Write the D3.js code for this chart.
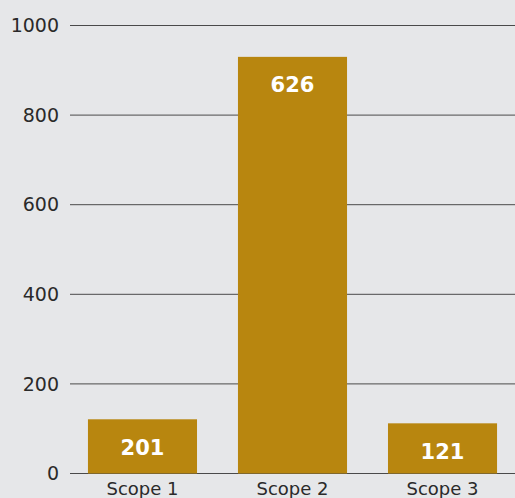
<!DOCTYPE html>
<html>
<head>
<meta charset="utf-8">
<script src="https://cdn.jsdelivr.net/npm/d3@7"></script>
<style>
  body { margin: 0; background: #e6e7e9; }
  svg { display: block; }
</style>
</head>
<body>
<script>
var categories = ["Scope 1", "Scope 2", "Scope 3"];
var hauteurs = [121, 930, 112];
var etiquettes = ["201", "626", "121"];
var ticks = [0, 200, 400, 600, 800, 1000];

var width = 515, height = 498;

var svg = d3.select("body").append("svg")
    .attr("width", width)
    .attr("height", height);

svg.append("rect")
    .attr("width", width)
    .attr("height", height)
    .attr("fill", "#e6e7e9");

var echelleY = d3.scaleLinear()
    .domain([0, 1000])
    .range([473.5, 25.5]);

var echelleX = d3.scaleBand()
    .domain(categories)
    .range([68, 517])
    .paddingInner(0.273)
    .paddingOuter(0.133);

// gridlines
svg.selectAll(".grille").data(ticks)
    .enter().append("line")
    .attr("class", "grille")
    .attr("x1", 70)
    .attr("x2", width)
    .attr("y1", d => echelleY(d))
    .attr("y2", d => echelleY(d))
    .attr("stroke", "#4a4a4a")
    .attr("stroke-width", 1);

// y tick labels
svg.selectAll(".tick-y").data(ticks)
    .enter().append("text")
    .attr("class", "tick-y")
    .attr("x", 59)
    .attr("y", d => echelleY(d))
    .attr("dy", "0.35em")
    .attr("text-anchor", "end")
    .attr("font-family", "DejaVu Sans")
    .attr("font-size", 19)
    .attr("fill", "#2a2a2a")
    .text(d => d);

// bars
svg.selectAll(".barre").data(hauteurs)
    .enter().append("rect")
    .attr("class", "barre")
    .attr("x", (d, i) => echelleX(categories[i]))
    .attr("y", d => echelleY(d))
    .attr("width", echelleX.bandwidth())
    .attr("height", d => echelleY(0) - echelleY(d))
    .attr("fill", "#b8860f");

// value labels inside bars
svg.selectAll(".valeur").data(etiquettes)
    .enter().append("text")
    .attr("class", "valeur")
    .attr("x", (d, i) => echelleX(categories[i]) + echelleX.bandwidth() / 2)
    .attr("y", (d, i) => echelleY(hauteurs[i]) + 28)
    .attr("dy", "0.35em")
    .attr("text-anchor", "middle")
    .attr("font-family", "DejaVu Sans")
    .attr("font-weight", "bold")
    .attr("font-size", 21)
    .attr("fill", "#fff")
    .text(d => d);

// category labels
svg.selectAll(".cat").data(categories)
    .enter().append("text")
    .attr("class", "cat")
    .attr("x", d => echelleX(d) + echelleX.bandwidth() / 2)
    .attr("y", 495)
    .attr("text-anchor", "middle")
    .attr("font-family", "DejaVu Sans")
    .attr("font-size", 18)
    .attr("fill", "#2a2a2a")
    .text(d => d);
</script>
</body>
</html>
